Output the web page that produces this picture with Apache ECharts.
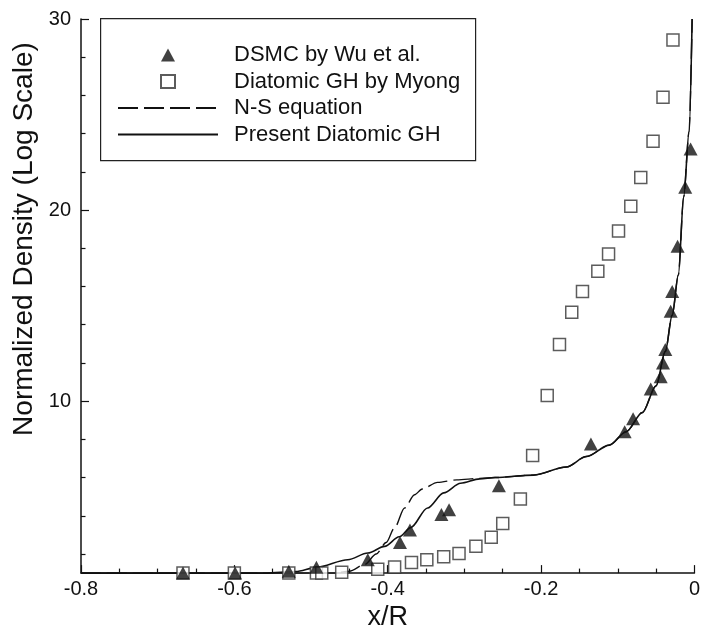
<!DOCTYPE html>
<html>
<head>
<meta charset="utf-8">
<script src="https://cdn.jsdelivr.net/npm/echarts@6/dist/echarts.min.js"></script>
<style>
html,body{margin:0;padding:0;background:#fff;}
#chart{width:703px;height:636px;}
</style>
</head>
<body>
<div id="chart"></div>
<script>
// x/R values and normalized density values
const dsmcX = [-0.667,-0.599,-0.529,-0.493,-0.426,-0.384,-0.371,-0.330,-0.320,-0.255,-0.135,-0.091,-0.080,-0.057,-0.044,-0.041,-0.038,-0.031,-0.029,-0.022,-0.012,-0.005];
const dsmcY = [1.0,1.0,1.1,1.3,1.7,2.6,3.25,4.07,4.31,5.57,7.76,8.40,9.08,10.63,11.28,12.0,12.7,14.7,15.74,18.1,21.2,23.2];

const myongX = [-0.667,-0.6,-0.529,-0.493,-0.486,-0.460,-0.413,-0.391,-0.369,-0.349,-0.327,-0.307,-0.285,-0.265,-0.250,-0.227,-0.211,-0.192,-0.176,-0.160,-0.146,-0.126,-0.112,-0.099,-0.083,-0.070,-0.054,-0.041,-0.028];
const myongY = [1.0,1.0,1.0,1.0,1.0,1.05,1.2,1.32,1.55,1.7,1.86,2.02,2.4,2.87,3.59,4.88,7.16,10.3,12.96,14.65,15.74,16.8,17.7,18.9,20.2,21.7,23.6,25.9,28.9];

const nsX = [-0.8,-0.47,-0.45,-0.43,-0.415,-0.402,-0.391,-0.378,-0.365,-0.355,-0.335,-0.31,-0.28,-0.26,-0.21,-0.167,-0.141,-0.111,-0.089,-0.068,-0.05,-0.038,-0.029,-0.021,-0.014,-0.007,-0.003];
const nsY = [1.0,1.0,1.1,1.45,2.0,2.6,3.38,4.41,5.1,5.4,5.75,5.88,5.96,6.0,6.13,6.55,7.1,7.7,8.4,9.4,10.8,12.6,14.5,16.6,20.7,24.1,30];

const ghX = [-0.8,-0.56,-0.52,-0.493,-0.452,-0.426,-0.404,-0.385,-0.37,-0.348,-0.327,-0.305,-0.28,-0.26,-0.21,-0.167,-0.141,-0.111,-0.089,-0.068,-0.05,-0.038,-0.029,-0.021,-0.014,-0.007,-0.003];
const ghY = [1.0,1.0,1.08,1.3,1.7,2.05,2.4,2.9,3.38,4.41,5.2,5.7,5.93,6.0,6.13,6.55,7.1,7.7,8.4,9.4,10.8,12.6,14.5,16.6,20.7,24.1,30];

const xTickLabels = ['-0.8','-0.6','-0.4','-0.2','0'];
const yMajorTicks = [10,20,30];
const yMinorTicks = [2,4,6,8,12,14,16,18,22,24,26,28];

const seriesNames = ['DSMC by Wu et al.', 'Diatomic GH by Myong', 'N-S equation', 'Present Diatomic GH'];

const zip = (xs, ys) => xs.map((x, i) => [x, ys[i]]);

const chart = echarts.init(document.getElementById('chart'), null, {renderer: 'canvas'});
const font = 'Liberation Sans, Arial, Helvetica, sans-serif';
const ink = '#111';

const legendText = {fontFamily: font, fontSize: 22, lineHeight: 22, color: ink};

chart.setOption({
  animation: false,
  backgroundColor: '#fff',
  grid: {left: 81, right: 4, top: 19, bottom: 53, containLabel: false},
  graphic: [{
    type: 'rect', left: 100, top: 18, z: 100,
    shape: {width: 375, height: 142},
    style: {fill: 'rgba(255,255,255,0)', stroke: '#222', lineWidth: 1.2}
  }],
  legend: [{
    left: 160, top: 44, padding: 0,
    orient: 'vertical',
    itemWidth: 14, itemHeight: 13, itemGap: 4.5,
    textStyle: Object.assign({padding: [0, 0, 0, 54]}, legendText),
    data: [{name: seriesNames[0], icon: 'triangle'}, {name: seriesNames[1], icon: 'rect'}]
  }, {
    left: 117, top: 97, padding: 0,
    orient: 'vertical',
    itemWidth: 100, itemHeight: 14, itemGap: 4.5,
    itemStyle: {color: 'rgba(0,0,0,0)', borderWidth: 0, opacity: 0},
    textStyle: Object.assign({padding: [0, 0, 0, 11]}, legendText),
    data: [seriesNames[2], seriesNames[3]]
  }],
  xAxis: {
    type: 'value', min: -0.8, max: 0, interval: 0.2,
    name: 'x/R', nameLocation: 'middle', nameGap: 30,
    nameTextStyle: {fontFamily: font, fontSize: 27, color: ink},
    axisLine: {show: true, onZero: false, lineStyle: {color: ink, width: 1.5}},
    axisTick: {show: true, inside: true, length: 8, lineStyle: {color: ink, width: 1.2}},
    minorTick: {show: true, splitNumber: 4, length: 4.5, lineStyle: {color: ink, width: 1.2}},
    axisLabel: {fontFamily: font, fontSize: 20, color: ink, margin: 6,
      formatter: v => { const i = Math.round((v + 0.8) / 0.2); return xTickLabels[i] ?? ''; }},
    splitLine: {show: false}
  },
  yAxis: [{
    type: 'value', min: 1, max: 30, position: 'left', offset: 0,
    name: 'Normalized Density (Log Scale)', nameLocation: 'middle', nameGap: 37,
    nameTextStyle: {fontFamily: font, fontSize: 28, color: ink, padding: [0, 0, 0, 114]},
    axisLine: {show: true, onZero: false, lineStyle: {color: ink, width: 1.5}},
    axisTick: {show: true, inside: true, length: 8, customValues: yMajorTicks, lineStyle: {color: ink, width: 1.2}},
    axisLabel: {fontFamily: font, fontSize: 20, color: ink, margin: 10, customValues: yMajorTicks},
    splitLine: {show: false}
  }, {
    type: 'value', min: 1, max: 30, position: 'left', offset: 0,
    axisLine: {show: false, onZero: false},
    axisTick: {show: true, inside: true, length: 4.5, customValues: yMinorTicks, lineStyle: {color: ink, width: 1.2}},
    axisLabel: {show: false},
    splitLine: {show: false}
  }],
  series: [
    {
      name: seriesNames[3], type: 'line', data: zip(ghX, ghY),
      symbol: 'none', showSymbol: false, smooth: 0.3, smoothMonotone: 'x',
      lineStyle: {color: ink, width: 1.6, type: 'solid'}, itemStyle: {color: ink}, z: 2
    },
    {
      name: seriesNames[2], type: 'line', data: zip(nsX, nsY),
      symbol: 'none', showSymbol: false, smooth: 0.3, smoothMonotone: 'x',
      lineStyle: {color: ink, width: 1.4, type: [20, 6]}, itemStyle: {color: ink}, z: 2
    },
    {
      name: seriesNames[1], type: 'scatter', data: zip(myongX, myongY),
      symbol: 'rect', symbolSize: 12, clip: false,
      itemStyle: {color: '#fff', borderColor: '#333', borderWidth: 1.5}, z: 3
    },
    {
      name: seriesNames[0], type: 'scatter', data: zip(dsmcX, dsmcY),
      symbol: 'triangle', symbolSize: [14, 13], clip: false,
      itemStyle: {color: ink}, z: 4
    }
  ]
});
</script>
</body>
</html>
